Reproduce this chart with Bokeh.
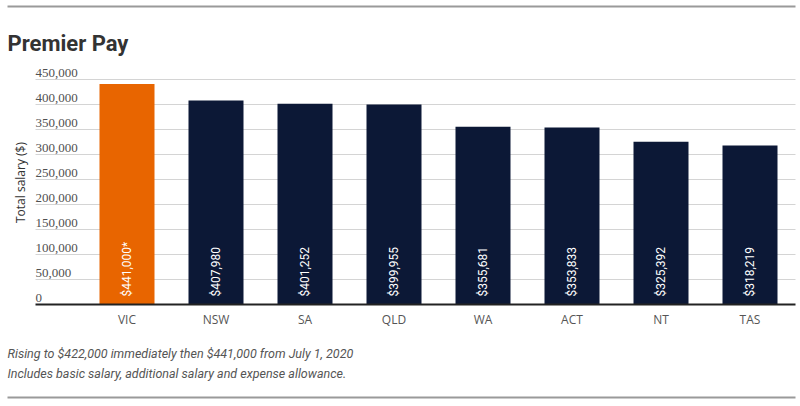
import math
from bokeh.plotting import figure
from bokeh.models import (ColumnDataSource, FixedTicker, Range1d, Label, LabelSet,
                          BoxAnnotation, LinearAxis, Grid)
from bokeh.core.properties import value
from bokeh.embed import file_html
from bokeh.resources import INLINE

# ---- data ----
states = ["VIC", "NSW", "SA", "QLD", "WA", "ACT", "NT", "TAS"]
salaries = [441000, 407980, 401252, 399955, 355681, 353833, 325392, 318219]
bar_labels = ["$441,000*", "$407,980", "$401,252", "$399,955",
              "$355,681", "$353,833", "$325,392", "$318,219"]
bar_colors = ["#E86500", "#0C1836", "#0C1836", "#0C1836",
              "#0C1836", "#0C1836", "#0C1836", "#0C1836"]
y_ticks = [0, 50000, 100000, 150000, 200000, 250000, 300000, 350000, 400000, 450000]
y_tick_labels = ["0", "50,000", "100,000", "150,000", "200,000", "250,000",
                 "300,000", "350,000", "400,000", "450,000"]
title_text = "Premier Pay"
y_axis_title = "Total salary ($)"
notes = ["Rising to $422,000 immediately then $441,000 from July 1, 2020",
         "Includes basic salary, additional salary and expense allowance."]

FONT = "Roboto"
AXFONT = "Open Sans"
positions = list(range(len(states)))

W, H = 800, 406
# frame = whole canvas; plot area (x 35..795, y 54..304) lives inside it
SLOT = 89.0          # px per category
X0 = 126.5           # px centre of first category
PX_PER_UNIT_Y = 25.0 / 50000
Y0 = 304.0           # px of value 0
x_start = -X0 / SLOT
x_end = (W - X0) / SLOT
y_end = Y0 / PX_PER_UNIT_Y
y_start = -(H - Y0) / PX_PER_UNIT_Y
area_left = (35 - X0) / SLOT
area_right = (795 - X0) / SLOT

p = figure(width=W, height=H, output_backend="svg", toolbar_location=None,
           x_range=Range1d(x_start, x_end), y_range=Range1d(y_start, y_end),
           x_axis_type=None, y_axis_type=None, title_location=None,
           min_border=0)
p.outline_line_color = None
p.background_fill_color = "white"
p.border_fill_color = "white"

grid = Grid(dimension=1, ticker=FixedTicker(ticks=y_ticks[1:]),
            cross_bounds=(area_left, area_right),
            grid_line_color="#d4d4d4", grid_line_width=1)
p.add_layout(grid)

ax = LinearAxis(fixed_location=0, bounds=(area_left, area_right),
                ticker=FixedTicker(ticks=positions),
                major_label_overrides={i: s for i, s in zip(positions, states)})
ax.major_tick_line_color = None
ax.minor_tick_line_color = None
ax.major_tick_in = 0
ax.major_tick_out = 0
ax.axis_line_color = "#222222"
ax.axis_line_width = 2
ax.major_label_text_font = AXFONT
ax.major_label_text_font_size = "12px"
ax.major_label_text_color = "#555555"
ax.major_label_standoff = 6
p.add_layout(ax, "below")

src = ColumnDataSource(dict(x=positions, top=salaries, color=bar_colors,
                            label=bar_labels, base=[0] * len(states)))
p.vbar(x="x", top="top", width=55.0 / SLOT, color="color", line_color=None, source=src)
p.text(x="x", y="base", text="label", angle=math.pi / 2, text_align="left",
       text_baseline="middle", y_offset=-8, text_color="white",
       text_font=value(FONT), text_font_size="12px", source=src)

tick_src = ColumnDataSource(dict(y=y_ticks, text=y_tick_labels,
                                 sx=[35] * len(y_ticks)))
p.add_layout(LabelSet(x="sx", y="y", text="text", source=tick_src, x_units="screen",
                      y_units="data", text_baseline="alphabetic", y_offset=3,
                      text_font=AXFONT, text_font_size="13px", text_color="#505050"))

p.add_layout(Label(x=20, y=H - 182, x_units="screen", y_units="screen", text=y_axis_title,
                   angle=math.pi / 2, text_align="center", text_baseline="middle",
                   text_font=AXFONT, text_font_size="12px", text_color="#333333"))

p.add_layout(Label(x=7, y=H - 43, x_units="screen", y_units="screen", text=title_text,
                   text_align="left", text_baseline="alphabetic",
                   text_font=FONT, text_font_style="bold", text_font_size="22px",
                   text_color="#333333"))

for i, note in enumerate(notes):
    p.add_layout(Label(x=7, y=H - 353 - 20 * i, x_units="screen", y_units="screen",
                       text=note, text_align="left", text_baseline="middle",
                       text_font=FONT, text_font_style="italic", text_font_size="12.5px",
                       text_color="#555555"))

for top_px in (5, 396):
    p.add_layout(BoxAnnotation(left=7, right=795, top=H - top_px, bottom=H - top_px - 2,
                               left_units="screen", right_units="screen",
                               bottom_units="screen", top_units="screen",
                               fill_color="#9a9a9a", fill_alpha=1, line_color=None))

open("out.html", "w").write(file_html(p, INLINE))
